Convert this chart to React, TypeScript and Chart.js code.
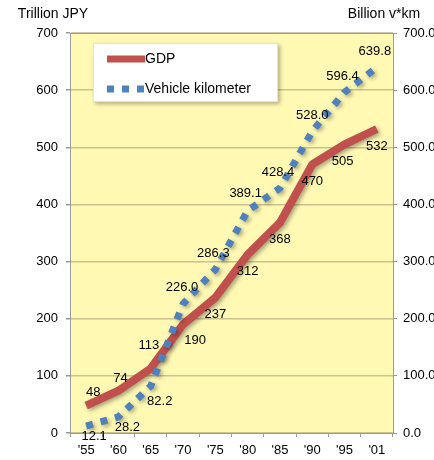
import React, { useEffect, useRef } from 'react';
import { Chart, registerables } from 'chart.js';

Chart.register(...registerables);

// ---- data ----
const years = ["'55", "'60", "'65", "'70", "'75", "'80", "'85", "'90", "'95", "'01"];
const gdp = [48, 74, 113, 190, 237, 312, 368, 470, 505, 532];
const vehicleKm = [12.1, 28.2, 82.2, 226.0, 286.3, 389.1, 428.4, 528.0, 596.4, 639.8];
const gdpName = 'GDP';
const vkmName = 'Vehicle kilometer';
const leftTitle = 'Trillion JPY';
const rightTitle = 'Billion v*km';
const axisMin = 0;
const axisMax = 700;
const axisStep = 100;

// ---- styles ----
const FONT = 'Arial, "Liberation Sans", sans-serif';
const RED = '#C0504D';
const BLUE = '#4F81BD';
const GRAY = '#9a9a9a';

// per-point label offsets (pixels) for each dataset
const gdpLabelOffsets: [number, number][] = [
  [7, -13], [2, -12], [-2, -23], [12, 16], [0, 17], [0, 17], [0, 17], [0, 17], [-2, 17], [0, 17],
];
const vkmLabelOffsets: [number, number][] = [
  [8, 10], [9, 11], [9, 15], [-1, -16], [-2, -16], [-2, -17], [-2, -16], [0, -16], [-2, -16], [-2, -16],
];

const plotBg = {
  id: 'plotBg',
  beforeDraw(chart: any) {
    const { ctx, chartArea: a } = chart;
    ctx.save();
    ctx.fillStyle = '#FFF9B4';
    ctx.fillRect(a.left, a.top, a.right - a.left, a.bottom - a.top);
    ctx.restore();
  },
  beforeDatasetsDraw(chart: any) {
    const { ctx, chartArea: a } = chart;
    ctx.save();
    ctx.strokeStyle = GRAY;
    ctx.lineWidth = 1;
    ctx.beginPath();
    ctx.moveTo(a.left, a.top + 0.5);
    ctx.lineTo(a.right, a.top + 0.5);
    ctx.stroke();
    ctx.restore();
  },
};

const lineShadow = {
  id: 'lineShadow',
  beforeDatasetDraw(chart: any) {
    const ctx = chart.ctx;
    ctx.save();
    ctx.shadowColor = 'rgba(0,0,0,0.35)';
    ctx.shadowBlur = 4;
    ctx.shadowOffsetX = 2;
    ctx.shadowOffsetY = 2;
  },
  afterDatasetDraw(chart: any) {
    chart.ctx.restore();
  },
};

const dataLabels = {
  id: 'dataLabels',
  afterDatasetsDraw(chart: any) {
    const ctx = chart.ctx;
    ctx.save();
    ctx.font = `13px ${FONT}`;
    ctx.fillStyle = '#000';
    ctx.textAlign = 'center';
    ctx.textBaseline = 'middle';
    chart.data.datasets.forEach((ds: any, i: number) => {
      const meta = chart.getDatasetMeta(i);
      const offs = i === 0 ? gdpLabelOffsets : vkmLabelOffsets;
      meta.data.forEach((pt: any, j: number) => {
        const v = ds.data[j] as number;
        const text = i === 0 ? String(v) : v.toFixed(1);
        ctx.fillText(text, pt.x + offs[j][0], pt.y + offs[j][1]);
      });
    });
    ctx.restore();
  },
};

const decorations = {
  id: 'decorations',
  afterDraw(chart: any) {
    const ctx = chart.ctx;
    ctx.save();
    // axis titles
    ctx.font = `14px ${FONT}`;
    ctx.fillStyle = '#000';
    ctx.textBaseline = 'middle';
    ctx.textAlign = 'center';
    ctx.fillText(leftTitle, 53, 14);
    ctx.fillText(rightTitle, 384, 14);

    // legend box
    ctx.save();
    ctx.shadowColor = 'rgba(0,0,0,0.3)';
    ctx.shadowBlur = 4;
    ctx.shadowOffsetX = 2;
    ctx.shadowOffsetY = 2;
    ctx.fillStyle = '#ffffff';
    ctx.fillRect(93, 43, 185, 59);
    ctx.restore();
    ctx.strokeStyle = '#e4e4e4';
    ctx.lineWidth = 1;
    ctx.strokeRect(93.5, 43.5, 184, 58);

    ctx.lineCap = 'butt';
    ctx.lineWidth = 7;
    ctx.strokeStyle = RED;
    ctx.beginPath();
    ctx.moveTo(107, 59);
    ctx.lineTo(145, 59);
    ctx.stroke();

    ctx.strokeStyle = BLUE;
    ctx.setLineDash([7, 8]);
    ctx.beginPath();
    ctx.moveTo(107, 89);
    ctx.lineTo(145, 89);
    ctx.stroke();
    ctx.setLineDash([]);

    ctx.font = `14px ${FONT}`;
    ctx.textAlign = 'left';
    ctx.fillStyle = '#000';
    ctx.fillText(gdpName, 145, 59);
    ctx.fillText(vkmName, 145, 89);
    ctx.restore();
  },
};

export default function App() {
  const ref = useRef<HTMLCanvasElement | null>(null);

  useEffect(() => {
    if (!ref.current) return;
    const tickFont = { size: 13, family: FONT };
    const chart = new Chart(ref.current, {
      type: 'line',
      data: {
        labels: years,
        datasets: [
          {
            label: gdpName,
            data: gdp,
            borderColor: RED,
            backgroundColor: RED,
            borderWidth: 8,
            pointRadius: 0,
            tension: 0,
            yAxisID: 'y',
            order: 2,
            borderJoinStyle: 'round',
          },
          {
            label: vkmName,
            data: vehicleKm,
            borderColor: BLUE,
            backgroundColor: BLUE,
            borderWidth: 7,
            borderDash: [7, 8],
            borderCapStyle: 'butt',
            pointRadius: 0,
            tension: 0,
            yAxisID: 'y1',
            order: 1,
          },
        ],
      },
      options: {
        responsive: false,
        animation: false,
        devicePixelRatio: 1,
        layout: { padding: { top: 33, left: 0, right: 0, bottom: 0 } },
        plugins: {
          legend: { display: false },
          tooltip: { enabled: false },
          title: { display: false },
        },
        scales: {
          x: {
            offset: true,
            grid: {
              drawOnChartArea: false,
              drawTicks: true,
              tickLength: 4,
              color: GRAY,
              offset: true,
            },
            border: { display: true, color: GRAY },
            ticks: {
              font: tickFont,
              color: '#000',
              padding: 6,
              maxRotation: 0,
              autoSkip: false,
            },
            afterFit: (s: any) => {
              s.height = 27;
            },
          },
          y: {
            position: 'left',
            min: axisMin,
            max: axisMax,
            grid: {
              color: 'rgba(160,150,110,0.55)',
              lineWidth: 1.5,
              tickColor: GRAY,
              tickLength: 4,
            },
            border: { display: true, color: GRAY },
            ticks: {
              stepSize: axisStep,
              font: tickFont,
              color: '#000',
              padding: 8,
            },
            afterFit: (s: any) => {
              s.width = 70;
            },
          },
          y1: {
            position: 'right',
            min: axisMin,
            max: axisMax,
            grid: {
              drawOnChartArea: false,
              tickColor: GRAY,
              tickLength: 4,
            },
            border: { display: true, color: GRAY },
            ticks: {
              stepSize: axisStep,
              font: tickFont,
              color: '#000',
              padding: 6,
              callback: (v: any) => Number(v).toFixed(1),
            },
            afterFit: (s: any) => {
              s.width = 77;
            },
          },
        },
      },
      plugins: [plotBg, lineShadow, dataLabels, decorations],
    });
    return () => chart.destroy();
  }, []);

  return (
    <div
      style={{
        position: 'fixed',
        left: 0,
        top: 0,
        width: 434,
        height: 460,
        overflow: 'hidden',
        background: '#fff',
      }}
    >
      <canvas ref={ref} width={470} height={460} style={{ display: 'block' }} />
    </div>
  );
}
